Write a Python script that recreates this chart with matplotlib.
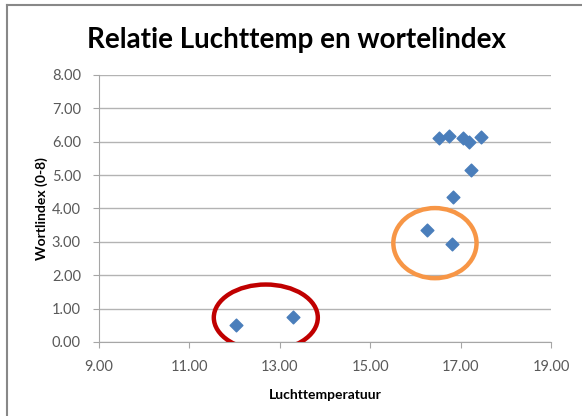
import matplotlib.pyplot as plt
from matplotlib.patches import Ellipse
from matplotlib.lines import Line2D

# Data
luchttemp = [12.03, 13.29, 16.25, 16.80, 16.84, 16.51, 16.73, 17.06, 17.19, 17.45, 17.22]
wortelindex = [0.51, 0.75, 3.36, 2.93, 4.33, 6.12, 6.17, 6.10, 5.98, 6.15, 5.15]

x_ticks = [9, 11, 13, 15, 17, 19]
y_ticks = [0, 1, 2, 3, 4, 5, 6, 7, 8]

plt.rcParams['font.family'] = ['Lato', 'DejaVu Sans']

fig = plt.figure(figsize=(5.82, 4.16), dpi=100)
ax = fig.add_axes([0.170, 0.178, 0.777, 0.642])

ax.scatter(luchttemp, wortelindex, marker='D', s=42, color='#4a7ebb', zorder=3)

# highlighted groups
ax.add_patch(Ellipse((12.69, 0.73), 2.3, 1.98, fill=False, edgecolor='#c00000', lw=3.2, zorder=4))
ax.add_patch(Ellipse((16.43, 2.96), 1.84, 2.1, fill=False, edgecolor='#f79646', lw=3.2, zorder=4))

ax.set_xlim(9, 19)
ax.set_ylim(0, 8)
ax.set_xticks(x_ticks)
ax.set_yticks(y_ticks)
ax.set_xticklabels(['%.2f' % v for v in x_ticks])
ax.set_yticklabels(['%.2f' % v for v in y_ticks])
ax.tick_params(labelsize=10.5, labelcolor='#595959', color='#a6a6a6', length=4)
ax.tick_params(axis='x', pad=9)
ax.tick_params(axis='y', pad=9)
ax.yaxis.grid(True, color='#b3b3b3', lw=1)
ax.set_axisbelow(True)
for side in ['top', 'right']:
    ax.spines[side].set_visible(False)
ax.spines['left'].set_color('#a6a6a6')
ax.spines['bottom'].set_color('#a6a6a6')

ax.set_xlabel('Luchttemperatuur', fontsize=10, fontweight='bold', labelpad=11)
ax.set_ylabel('Wortlindex (0-8)', fontsize=10, fontweight='bold', labelpad=3)
fig.text(0.51, 0.905, 'Relatie Luchttemp en wortelindex', ha='center', va='center',
         fontsize=20, fontweight='bold')

# chart border (left and top edges visible)
fig.add_artist(Line2D([0.012, 0.012], [0, 0.988], color='#888888', lw=1.5))
fig.add_artist(Line2D([0.012, 1], [0.988, 0.988], color='#888888', lw=1.5))

fig.savefig('out.png', dpi=100)
